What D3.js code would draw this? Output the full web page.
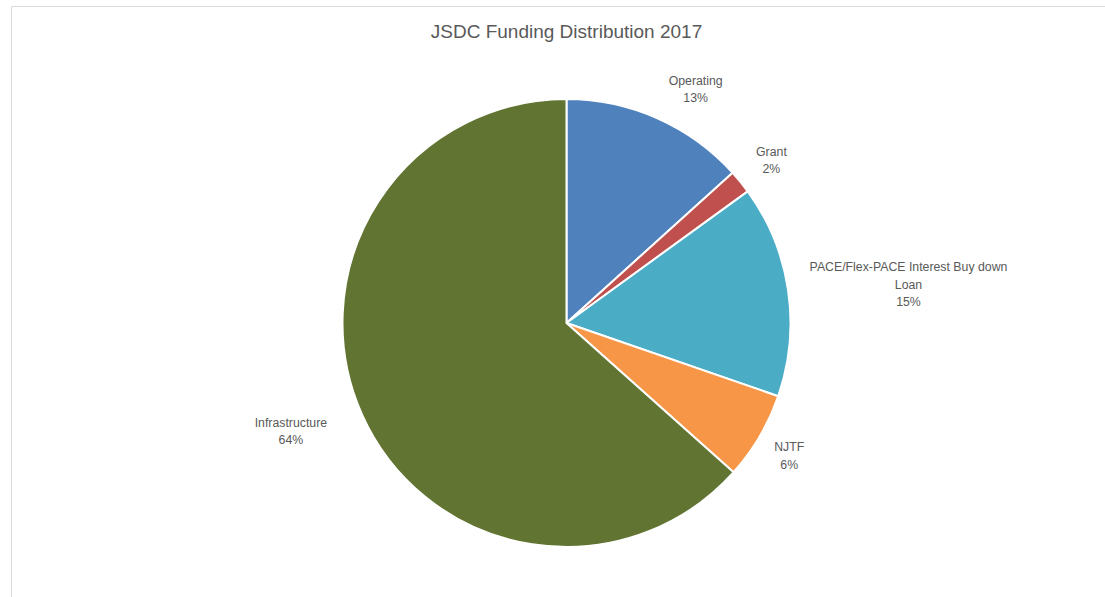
<!DOCTYPE html>
<html>
<head>
<meta charset="utf-8">
<script src="https://cdn.jsdelivr.net/npm/d3@7"></script>
<style>
  body { margin: 0; background: #fff; }
  text { font-family: "Liberation Sans", Arial, sans-serif; fill: #595959; }
</style>
</head>
<body>
<div id="chart"></div>
<script>
// slice values (percent of total)
const categories = ['Operating', 'Grant', 'PACE/Flex-PACE Interest Buy down Loan', 'NJTF', 'Infrastructure'];
const values = [13.3, 1.7, 15.3, 6.3, 63.4];
const shownPercents = ['13%', '2%', '15%', '6%', '64%'];
// label lines as they wrap in the picture
const labelLines = [['Operating'], ['Grant'], ['PACE/Flex-PACE Interest Buy down', 'Loan'], ['NJTF'], ['Infrastructure']];
const colors = ['#4f81bd', '#c0504d', '#4bacc6', '#f79646', '#617431'];

const width = 1105;
const height = 597;
const cx = 566.5;
const cy = 323;
const radius = 224;
const lineH = 17.5;

// small hand nudges so labels sit where the original layout put them
const labelNudge = {
    'Operating': [20, 12],
    'Grant': [-1, 4],
    'PACE/Flex-PACE Interest Buy down Loan': [2, 12],
    'NJTF': [-5, -1],
    'Infrastructure': [-18, -7]
};

const svg = d3.select('#chart')
    .append('svg')
    .attr('width', width)
    .attr('height', height);

// chart area border (only top and left show in the frame)
svg.append('path')
    .attr('d', 'M11.5,' + height + ' L11.5,6.5 L' + width + ',6.5')
    .style('fill', 'none')
    .style('stroke', '#d9d9d9')
    .style('stroke-width', 1);

svg.append('text')
    .attr('x', cx)
    .attr('y', 38)
    .attr('text-anchor', 'middle')
    .attr('font-size', '19px')
    .text('JSDC Funding Distribution 2017');

const pie = d3.pie().sort(null).value(d => d);
const arcs = pie(values);
const arc = d3.arc().innerRadius(0).outerRadius(radius);

const g = svg.append('g').attr('transform', 'translate(' + cx + ',' + cy + ')');

g.selectAll('path.slice')
    .data(arcs)
    .enter()
    .append('path')
    .classed('slice', true)
    .attr('d', arc)
    .style('fill', (d, i) => colors[i])
    .style('stroke', '#fff')
    .style('stroke-width', 2)
    .style('stroke-linejoin', 'round');

// labels outside the pie, pushed out by their own box size
const labelBase = 242;
arcs.forEach((d, i) => {
    const lines = labelLines[i].concat([shownPercents[i]]);
    const lbl = g.append('text')
        .attr('text-anchor', 'middle')
        .attr('font-size', '12.3px');
    lines.forEach((t, k) => {
        lbl.append('tspan').attr('x', 0).attr('dy', k == 0 ? 0 : lineH).text(t);
    });
    const bb = lbl.node().getBBox();
    const w = bb.width;
    const h = lines.length * lineH;
    const a = (d.startAngle + d.endAngle) / 2;
    const r = labelBase + Math.abs(Math.sin(a)) * w / 2 + Math.abs(Math.cos(a)) * h / 2;
    const nudge = labelNudge[categories[i]] || [0, 0];
    const x = r * Math.sin(a) + nudge[0];
    const y = -r * Math.cos(a) + nudge[1];
    lbl.attr('transform', 'translate(' + x + ',' + (y - h / 2 + lineH * 0.75) + ')');
});
</script>
</body>
</html>
